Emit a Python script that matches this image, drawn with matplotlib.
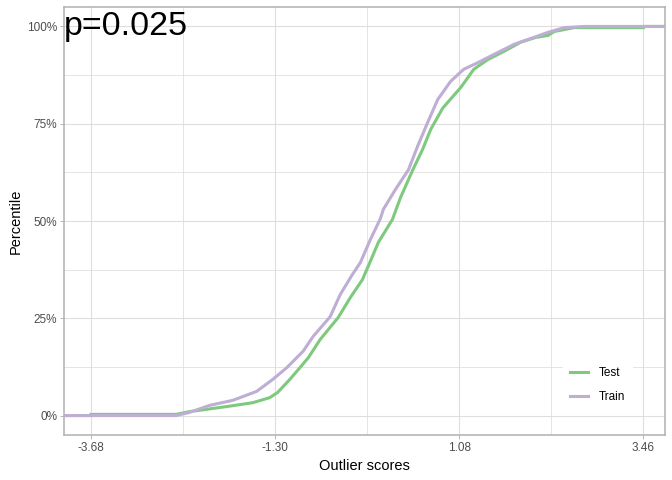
import numpy as np
import matplotlib.pyplot as plt
from matplotlib.ticker import FixedLocator, FuncFormatter

plt.rcParams['font.family'] = ['Liberation Sans', 'DejaVu Sans']

# ECDF: (score, percentile) points
test_x = [-3.68, -3.68, -2.58, -2.41, -1.93, -1.59, -1.37, -1.27, -1.11, -0.98, -0.87, -0.72,
          -0.485, -0.329, -0.173, -0.070, 0.034, 0.216, 0.320, 0.476, 0.606, 0.710, 0.866,
          0.931, 1.099, 1.268, 1.450, 1.658, 1.879, 2.073, 2.229, 2.307, 2.567, 3.46, 3.46]
test_p = [0.0, 0.3, 0.3, 1.0, 2.3, 3.3, 4.6, 5.9, 9.3, 12.3, 14.9, 19.5,
          25.2, 30.3, 34.9, 39.6, 44.5, 50.4, 56.0, 63.0, 68.4, 73.5, 79.0,
          80.5, 84.3, 89.0, 91.5, 93.6, 96.0, 97.2, 97.7, 98.7, 99.7, 99.7, 100.0]

train_x = [-2.58, -2.41, -2.15, -1.85, -1.54, -1.33, -1.15, -0.94, -0.81, -0.589, -0.459,
           -0.303, -0.199, -0.070, 0.060, 0.099, 0.255, 0.424, 0.541, 0.671, 0.801, 0.969,
           1.138, 1.320, 1.528, 1.788, 2.047, 2.229, 2.437, 2.697]
train_p = [0.0, 0.8, 2.6, 3.9, 6.2, 9.3, 12.3, 16.5, 20.3, 25.4, 31.1,
           36.2, 39.3, 45.2, 50.6, 53.0, 58.1, 63.2, 69.2, 75.3, 81.2, 85.9,
           89.0, 90.7, 92.8, 95.4, 97.2, 98.5, 99.7, 100.0]

x_breaks = [-3.68, -1.30, 1.08, 3.46]
y_breaks = [0, 25, 50, 75, 100]
p_label = "p=0.025"

xlim = (-4.03, 3.74)
ylim = (-5, 105)

fig = plt.figure(figsize=(7, 5), dpi=96)
ax = fig.add_axes([64 / 672, 45 / 480, 601 / 672, 428 / 480])

grid_col = '#dedede'
for v in x_breaks:
    ax.axvline(v, color=grid_col, lw=0.8, zorder=0)
for a, b in zip(x_breaks[:-1], x_breaks[1:]):
    ax.axvline((a + b) / 2, color=grid_col, lw=0.6, zorder=0)
for v in y_breaks:
    ax.axhline(v, color=grid_col, lw=0.8, zorder=0)
for a, b in zip(y_breaks[:-1], y_breaks[1:]):
    ax.axhline((a + b) / 2, color=grid_col, lw=0.6, zorder=0)

# pad the step curves out to the panel edges like stat_ecdf
tx = [xlim[0]] + test_x + [xlim[1]]
tp = [0.0] + test_p + [100.0]
rx = [xlim[0]] + train_x + [xlim[1]]
rp = [0.0] + train_p + [100.0]

ax.plot(tx, tp, color='#7fc97f', lw=2.3, label='Test', solid_joinstyle='miter', zorder=2)
ax.plot(rx, rp, color='#beaed4', lw=2.3, label='Train', solid_joinstyle='miter', zorder=3)

ax.set_xlim(*xlim)
ax.set_ylim(*ylim)
ax.xaxis.set_major_locator(FixedLocator(x_breaks))
ax.xaxis.set_major_formatter(FuncFormatter(lambda v, _: f"{v:.2f}"))
ax.yaxis.set_major_locator(FixedLocator(y_breaks))
ax.yaxis.set_major_formatter(FuncFormatter(lambda v, _: f"{v:.0f}%"))

for s in ax.spines.values():
    s.set_color('#b3b3b3')
    s.set_linewidth(1.2)
ax.tick_params(colors='#b3b3b3', labelcolor='#4d4d4d', labelsize=8.8, length=2.75, width=0.7, pad=2.2)

ax.set_xlabel('Outlier scores', fontsize=11, labelpad=4)
ax.set_ylabel('Percentile', fontsize=11, labelpad=3)

ax.annotate(p_label, xy=(xlim[0], ylim[1]), xytext=(0, -3), textcoords='offset points',
            fontsize=25.5, ha='left', va='top', color='black', zorder=5)

leg = ax.legend(loc='center', bbox_to_anchor=(597.5 / 672, 1 - 385 / 480), bbox_transform=fig.transFigure,
                frameon=True, fontsize=8.8, handlelength=1.55, handletextpad=0.85,
                labelspacing=1.05, borderpad=0.6, fancybox=False)
leg.get_frame().set_edgecolor('white')
leg.get_frame().set_facecolor('white')
leg.get_frame().set_alpha(1)

fig.savefig('out.png', dpi=96)
